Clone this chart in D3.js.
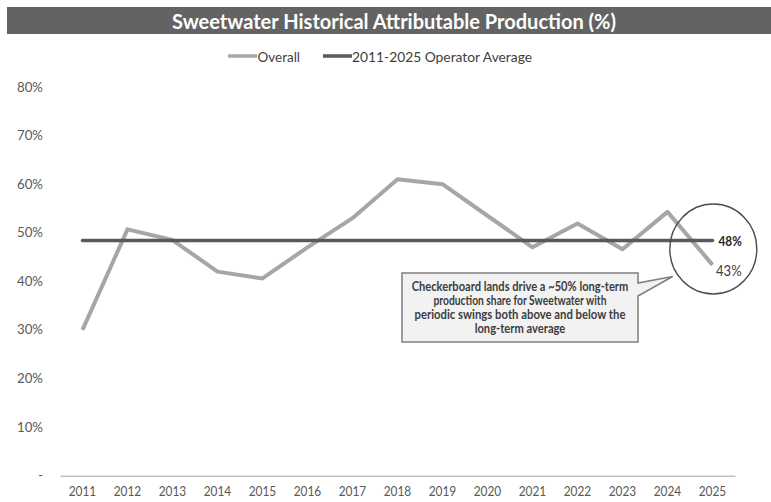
<!DOCTYPE html>
<html>
<head>
<meta charset="utf-8">
<script src="https://cdn.jsdelivr.net/npm/d3@7/dist/d3.min.js"></script>
<style>
  html, body { margin: 0; padding: 0; background: #fff; }
  svg { display: block; font-family: Lato, "Open Sans", sans-serif; }
</style>
</head>
<body>
<svg id="chart" width="771" height="502"></svg>
<script>
// Sweetwater attributable production share by year (%)
const years = ["2011","2012","2013","2014","2015","2016","2017","2018","2019","2020","2021","2022","2023","2024","2025"];
const overall = [30.0, 50.7, 48.5, 42.0, 40.6, 47.0, 53.0, 61.0, 60.0, 53.5, 47.0, 51.9, 46.6, 54.3, 43.4];
const operatorAverage = 48.4;
const yTicks = [0, 10, 20, 30, 40, 50, 60, 70, 80];
const seriesNames = ["Overall", "2011-2025 Operator Average"];
const calloutLines = [
  "Checkerboard lands drive a ~50% long-term",
  "production share for Sweetwater with",
  "periodic swings both above and below the",
  "long-term average"
];

const svg = d3.select("#chart");
const colOverall = "#a6a6a6", colAvg = "#595959", colText = "#595959";

const x = d3.scaleBand().domain(years).range([60, 735]).padding(0);
const xc = d => x(d) + x.bandwidth() / 2;
const y = d3.scaleLinear().domain([0, 80]).range([475.7, 87]);

// Title bar
svg.append("rect").attr("x", 7).attr("y", 7).attr("width", 764).attr("height", 27).attr("fill", "#636363");
svg.append("text").attr("x", 394).attr("y", 21).attr("text-anchor", "middle")
  .attr("dominant-baseline", "central").attr("fill", "#fff").attr("font-weight", 700)
  .attr("font-size", 20).attr("textLength", 444).attr("lengthAdjust", "spacingAndGlyphs")
  .text("Sweetwater Historical Attributable Production (%)");

// Legend
const legend = [
  { name: seriesNames[0], color: colOverall, x0: 228, tx: 257.5, w: 42.5 },
  { name: seriesNames[1], color: colAvg, x0: 323, tx: 352, w: 180 }
];
legend.forEach(l => {
  svg.append("line").attr("x1", l.x0).attr("x2", l.x0 + 29).attr("y1", 56).attr("y2", 56)
    .attr("stroke", l.color).attr("stroke-width", 3.5);
  svg.append("text").attr("x", l.tx).attr("y", 56.5).attr("dominant-baseline", "central")
    .attr("fill", "#404040").attr("font-size", 13.5)
    .attr("textLength", l.w).attr("lengthAdjust", "spacingAndGlyphs").text(l.name);
});

// Y axis labels
const yAxis = d3.axisLeft(y).tickValues(yTicks).tickSize(0).tickPadding(0)
  .tickFormat(v => v === 0 ? "-" : v + "%");
const gy = svg.append("g").attr("transform", "translate(43,0)").call(yAxis);
gy.select(".domain").remove();
gy.selectAll("text").attr("fill", colText).attr("font-size", 12.5)
  .attr("font-family", "Lato, 'Open Sans', sans-serif")
  .attr("textLength", v => v === 0 ? null : 26).attr("lengthAdjust", "spacingAndGlyphs");

// X axis
const xAxis = d3.axisBottom(x).tickSize(0).tickPadding(0);
const gx = svg.append("g").attr("transform", "translate(0,475.7)").call(xAxis);
gx.select(".domain").attr("stroke", "#bfbfbf").attr("stroke-width", 1.6);
gx.selectAll("text").attr("fill", colText).attr("font-size", 12.5)
  .attr("font-family", "Lato, 'Open Sans', sans-serif")
  .attr("y", 16.3).attr("dy", 0).attr("dominant-baseline", "central")
  .attr("textLength", 27.5).attr("lengthAdjust", "spacingAndGlyphs");

// Series lines
const line = d3.line().x((d, i) => xc(years[i])).y(d => y(d));
svg.append("path").datum(overall).attr("d", line).attr("fill", "none")
  .attr("stroke", colOverall).attr("stroke-width", 4).attr("stroke-linejoin", "round");
const avgSeries = years.map(() => operatorAverage);
svg.append("path").datum(avgSeries).attr("d", line).attr("fill", "none")
  .attr("stroke", colAvg).attr("stroke-width", 3.5).attr("stroke-linecap", "round");

// End labels
const fmt = d3.format(".0f");
const lastX = xc(years[years.length - 1]);
svg.append("text").attr("x", lastX + 6).attr("y", y(operatorAverage) + 0.5)
  .attr("dominant-baseline", "central").attr("fill", "#262626").attr("font-weight", 700)
  .attr("font-size", 12.5).attr("textLength", 23.4).attr("lengthAdjust", "spacingAndGlyphs")
  .text(fmt(operatorAverage) + "%");
const lastVal = overall[overall.length - 1];
svg.append("text").attr("x", lastX + 3.5).attr("y", y(lastVal) + 6)
  .attr("dominant-baseline", "central").attr("fill", "#404040")
  .attr("font-size", 14.5).attr("textLength", 25.7).attr("lengthAdjust", "spacingAndGlyphs")
  .text(fmt(lastVal) + "%");

// Highlight ring around the latest year
svg.append("ellipse").attr("cx", 713.3).attr("cy", 249).attr("rx", 43.5).attr("ry", 45)
  .attr("fill", "none").attr("stroke", "#4d4d4d").attr("stroke-width", 1.4);

// Callout box with pointer
const bx0 = 402, bx1 = 638, by0 = 273, by1 = 342;
const callout = d3.path();
callout.moveTo(bx0, by0); callout.lineTo(bx1, by0); callout.lineTo(bx1, 283);
callout.lineTo(672.7, 276.5); callout.lineTo(bx1, 296); callout.lineTo(bx1, by1);
callout.lineTo(bx0, by1); callout.closePath();
svg.append("path").attr("d", callout.toString()).attr("fill", "#f2f2f2")
  .attr("stroke", "#7f7f7f").attr("stroke-width", 1.5);
const lineWidths = [216.7, 173, 211, 90.7];
const lineY = [286, 300.2, 314.3, 328.4];
calloutLines.forEach((t, i) => {
  svg.append("text").attr("x", 520).attr("y", lineY[i]).attr("text-anchor", "middle")
    .attr("dominant-baseline", "central").attr("fill", "#3d3d3d").attr("font-weight", 700)
    .attr("font-size", 12.3).attr("textLength", lineWidths[i]).attr("lengthAdjust", "spacingAndGlyphs")
    .text(t);
});
</script>
</body>
</html>
